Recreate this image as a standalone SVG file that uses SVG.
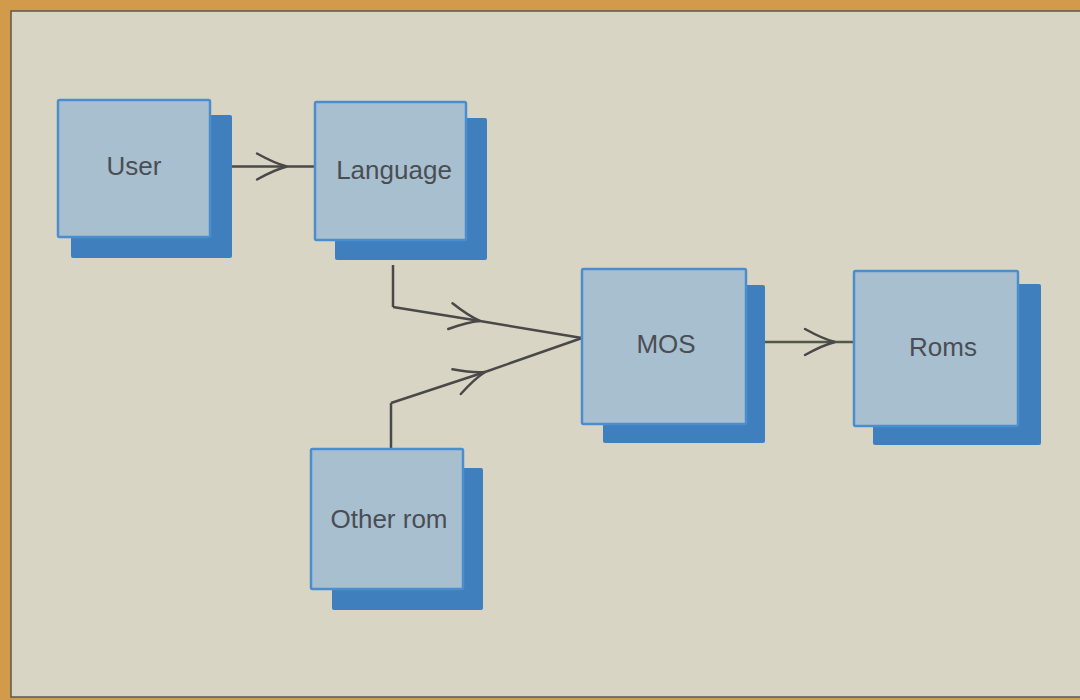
<svg xmlns="http://www.w3.org/2000/svg" width="1080" height="700" viewBox="0 0 1080 700">
<style>
.shadow{fill:#3f7fbe;}
.front{fill:#a8bfcf;stroke:#4b8ed0;stroke-width:2.5;}
.label{font-family:"Liberation Sans",Arial,sans-serif;font-size:26px;fill:#4a4e54;text-anchor:middle;}
.conn{fill:none;stroke:#4a4848;stroke-width:2.5;stroke-linejoin:miter;}
</style>
<defs>
<marker id="chev" markerUnits="userSpaceOnUse" markerWidth="40" markerHeight="34" viewBox="-34 -17 40 34" refX="0" refY="0" orient="auto" overflow="visible">
<path d="M-30,-13 Q-12,-3 0,0 Q-12,3 -30,13" fill="none" stroke="#4a4848" stroke-width="2.5" stroke-linecap="round"/>
</marker>
</defs>
<rect x="0" y="0" width="1080" height="700" fill="#d29b4c"/>
<rect x="11" y="11" width="1075" height="686" fill="#d8d5c5" stroke="#5a5850" stroke-width="1.5"/>
<g id="connectors">
<path class="conn" d="M232,166.5 L287,166.5 L315,166.5" marker-mid="url(#chev)"/>
<path class="conn" d="M393,265 L393,307"/>
<path class="conn" d="M393,307 L480,321 L582,338" marker-mid="url(#chev)"/>
<path class="conn" d="M391,449 L391,403"/>
<path class="conn" d="M391,403 L485,372 L582,338" marker-mid="url(#chev)"/>
<path class="conn" d="M765,342 L835,342 L854,342" marker-mid="url(#chev)" style="stroke:#4f5a48"/>
</g>
<g id="user">
<rect class="shadow" x="71" y="115" width="161" height="143" rx="2"/>
<rect class="front" x="58" y="100" width="152" height="137" rx="1.5"/>
<text class="label" x="134" y="175">User</text>
</g>
<g id="language">
<rect class="shadow" x="335" y="118" width="152" height="142" rx="2"/>
<rect class="front" x="315" y="102" width="151" height="138" rx="1.5"/>
<text class="label" x="394" y="179">Language</text>
</g>
<g id="mos">
<rect class="shadow" x="603" y="285" width="162" height="158" rx="2"/>
<rect class="front" x="582" y="269" width="164" height="155" rx="1.5"/>
<text class="label" x="666" y="353">MOS</text>
</g>
<g id="roms">
<rect class="shadow" x="873" y="284" width="168" height="161" rx="2"/>
<rect class="front" x="854" y="271" width="164" height="155" rx="1.5"/>
<text class="label" x="943" y="356">Roms</text>
</g>
<g id="other-rom">
<rect class="shadow" x="332" y="468" width="151" height="142" rx="2"/>
<rect class="front" x="311" y="449" width="152" height="140" rx="1.5"/>
<text class="label" x="389" y="528">Other rom</text>
</g>
</svg>
